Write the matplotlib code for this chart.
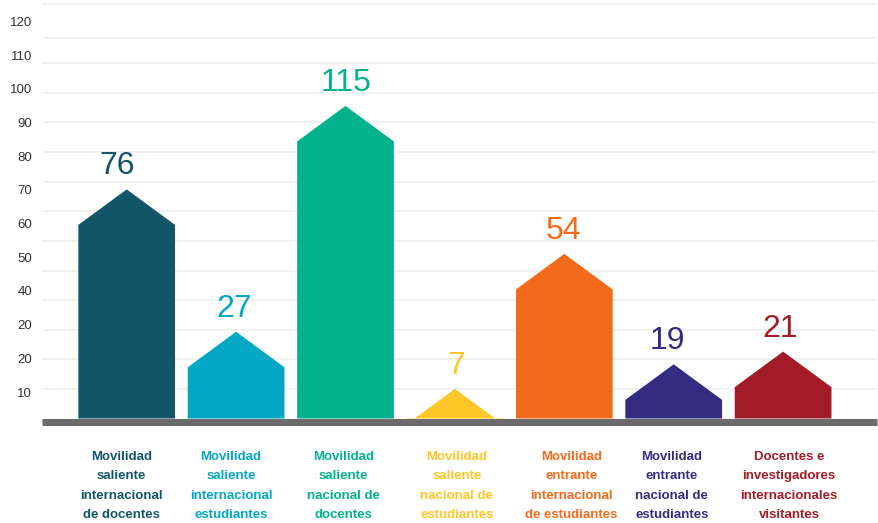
import matplotlib
matplotlib.use("Agg")
import matplotlib.pyplot as plt
import matplotlib.transforms as mtransforms
import numpy as np

# ---- data ----
categories = [
    "Movilidad\nsaliente\ninternacional\nde docentes",
    "Movilidad\nsaliente\ninternacional\nestudiantes",
    "Movilidad\nsaliente\nnacional de\ndocentes",
    "Movilidad\nsaliente\nnacional de\nestudiantes",
    "Movilidad\nentrante\ninternacional\nde estudiantes",
    "Movilidad\nentrante\nnacional de\nestudiantes",
    "Docentes e\ninvestigadores\ninternacionales\nvisitantes",
]
values = [76, 27, 115, 7, 54, 19, 21]              # numbers printed above bars
bar_tops = [77.4, 29.3, 105.6, 10.0, 55.6, 18.3, 22.6]  # drawn heights
ytick_labels = ["10", "20", "20", "40", "50", "60", "70", "80", "90", "100", "110", "120"]
colors = ["#125568", "#03a7c4", "#02b28c", "#fec626", "#f26a1a", "#342c80", "#a21c27"]

# ---- layout / style ----
W, H, DPI = 879, 523, 100
fig = plt.figure(figsize=(W / DPI, H / DPI), dpi=DPI)
base_px = 418.5
px_per_unit = 2.96
ax_left, ax_right = 42, 877
ax = fig.add_axes([ax_left / W, (H - base_px) / H, (ax_right - ax_left) / W, base_px / H])
unit_px = 109.4
first_px = 126.7
ax.set_xlim(-(first_px - ax_left) / unit_px, (ax_right - first_px) / unit_px)
ax.set_ylim(0, base_px / px_per_unit)

font = ["Liberation Sans", "DejaVu Sans"]

for s in ax.spines.values():
    s.set_visible(False)
ax.set_xticks([])
tick_pos = 8.95 + 11.385 * np.arange(len(ytick_labels))
ax.set_yticks(tick_pos)
ax.set_yticklabels(ytick_labels, family=font, fontsize=9.5, color="#333333")
ax.tick_params(axis="y", length=0, pad=7)

# gridlines
grid_lines = list(range(10, 130, 10)) + [128.5, 140.0]
for g in grid_lines:
    ax.axhline(g, color="#f0f0f0", lw=1.3, zorder=0)

x = np.arange(len(values))
half_w = 0.442
roof = 12.0
label_dx_px = [-10, -2, 1, 1, -1, -6, -3]
cat_dx_px = [-5, -5, -2, 2, 7, -2, 6]

for i, (xi, top, val, c) in enumerate(zip(x, bar_tops, values, colors)):
    xs = [xi - half_w, xi - half_w, xi, xi + half_w, xi + half_w]
    ys = [0, top - roof, top, top - roof, 0]
    ax.fill(xs, ys, color=c, lw=0, zorder=2)
    ax.annotate(str(val), xy=(xi, top), xytext=(label_dx_px[i] * 72 / DPI, 15 * 72 / DPI),
                textcoords="offset points", ha="center", va="baseline",
                fontsize=23, color=c, family=font, zorder=3)

# baseline bar
ax.axhline(-3.5 / px_per_unit, color="#6b6b6b", lw=7 * 72 / DPI, clip_on=False,
           solid_capstyle="butt", zorder=4)

# category labels
trans = mtransforms.blended_transform_factory(ax.transData, fig.transFigure)
line_step_px = 19.6
first_baseline_px = 459.5
for i, (xi, cat, c) in enumerate(zip(x, categories, colors)):
    for j, line in enumerate(cat.split("\n")):
        yb = 1 - (first_baseline_px + j * line_step_px) / H
        ax.text(xi + cat_dx_px[i] / unit_px, yb, line, transform=trans,
                ha="center", va="baseline", fontsize=9.5, fontweight="bold",
                color=c, family=font, clip_on=False)

fig.savefig("out.png", dpi=DPI)
